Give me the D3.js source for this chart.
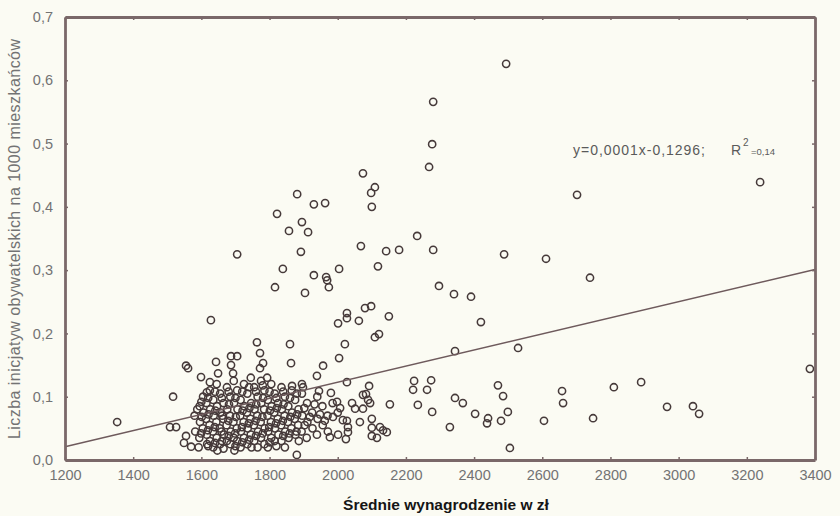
<!DOCTYPE html>
<html><head><meta charset="utf-8">
<script src="https://cdn.jsdelivr.net/npm/d3@7"></script>
<style>html,body{margin:0;background:#fbfbf3;}svg{display:block;}</style>
</head><body>
<svg id="chart" width="840" height="516"></svg>
<script>
// Axis ticks
const xTicks = [1200, 1400, 1600, 1800, 2000, 2200, 2400, 2600, 2800, 3000, 3200, 3400];
const yTicks = [0, 0.1, 0.2, 0.3, 0.4, 0.5, 0.6, 0.7];

// Fitted line endpoints (as drawn)
const fitX = [1200, 3400];
const fitY = [0.021, 0.301];

// Scattered municipalities: [average wage, initiatives per 1000 inhabitants]
const sparse = [
  [2494,0.626],[2280,0.566],[2277,0.499],[2268,0.463],[2074,0.453],[2109,0.431],[2098,0.422],
  [2100,0.400],[1963,0.406],[1881,0.420],[1930,0.404],[1822,0.389],[1895,0.376],[1857,0.362],
  [1913,0.360],[1892,0.329],[1705,0.325],[1839,0.302],[1930,0.292],[1816,0.273],[1904,0.264],
  [1628,0.221],[2702,0.419],[3239,0.439],[2233,0.354],[2068,0.338],[2142,0.330],[2180,0.332],
  [2280,0.332],[2004,0.302],[2118,0.306],[2488,0.325],[2611,0.318],[2740,0.288],[1966,0.289],
  [1969,0.284],[1974,0.273],[2297,0.275],[2341,0.262],[2391,0.258],[2080,0.240],[2098,0.243],
  [2027,0.232],[2027,0.224],[2001,0.216],[2062,0.220],[2150,0.227],[2420,0.218],[2121,0.199],
  [2109,0.194],[2021,0.183],[2004,0.161],[1860,0.183],[1763,0.186],[1863,0.153],[1957,0.149],
  [1939,0.133],[1772,0.169],[1781,0.153],[1772,0.145],[1687,0.164],[1705,0.164],[1643,0.155],
  [1687,0.150],[1555,0.149],[1561,0.145],[1649,0.137],[1693,0.137],[1599,0.131],[1625,0.123],
  [1793,0.130],[1517,0.100],[1616,0.107],[1866,0.117],[1895,0.120],[1898,0.115],[1945,0.109],
  [1980,0.106],[2027,0.123],[2092,0.117],[2074,0.103],[2083,0.104],[2089,0.095],[2224,0.125],
  [2274,0.126],[2221,0.111],[2262,0.111],[2153,0.088],[2235,0.087],[2277,0.076],[2344,0.098],
  [2329,0.052],[2367,0.090],[2403,0.073],[2441,0.066],[2438,0.058],[2479,0.062],[2499,0.076],
  [2485,0.101],[2470,0.118],[2505,0.019],[2605,0.062],[2658,0.109],[2661,0.090],[2749,0.066],
  [2810,0.115],[2890,0.123],[2966,0.084],[3042,0.085],[3060,0.073],[3385,0.144],[2344,0.172],
  [2529,0.177],[1998,0.092],[2007,0.082],[2042,0.090],[2051,0.081],[2074,0.081],[1986,0.068],
  [2015,0.063],[2027,0.062],[2065,0.060],[2100,0.065],[2030,0.052],[2030,0.044],[2100,0.051],
  [2124,0.052],[2133,0.047],[2144,0.044],[2100,0.038],[2115,0.035],[2024,0.033],[1977,0.036],
  [2095,0.090],[1880,0.008],[1353,0.060],[1508,0.052],[1526,0.052],[1549,0.027],[1570,0.021],
  [1555,0.038]
];

// Dense core of the cloud, 1580–2000 zł
const core = [
  [1580,0.070],[1582,0.045],[1588,0.080],
  [1595,0.085],[1596,0.060],[1594,0.035],[1592,0.020],
  [1605,0.100],[1606,0.075],[1604,0.050],
  [1615,0.090],[1614,0.065],[1616,0.040],[1617,0.025],
  [1625,0.110],[1626,0.080],[1624,0.055],[1625,0.030],
  [1635,0.095],[1636,0.070],[1634,0.045],[1635,0.020],
  [1645,0.120],[1646,0.085],[1644,0.060],[1645,0.035],[1647,0.015],
  [1655,0.105],[1656,0.075],[1654,0.050],[1655,0.025],
  [1665,0.090],[1664,0.065],[1666,0.040],[1665,0.018],
  [1675,0.115],[1676,0.080],[1674,0.055],[1675,0.030],
  [1685,0.100],[1684,0.070],[1686,0.045],[1685,0.025],
  [1695,0.125],[1696,0.090],[1694,0.060],[1695,0.035],[1697,0.015],
  [1705,0.110],[1706,0.080],[1704,0.050],[1705,0.030],
  [1715,0.095],[1714,0.070],[1716,0.045],[1715,0.020],
  [1725,0.120],[1726,0.085],[1724,0.060],[1725,0.035],
  [1735,0.105],[1734,0.075],[1736,0.050],[1735,0.025],
  [1745,0.130],[1746,0.090],[1744,0.065],[1745,0.040],[1747,0.020],
  [1755,0.115],[1756,0.080],[1754,0.055],[1755,0.030],
  [1765,0.100],[1764,0.070],[1766,0.045],[1765,0.020],
  [1775,0.125],[1776,0.090],[1774,0.060],[1775,0.035],
  [1785,0.110],[1784,0.080],[1786,0.050],[1785,0.025],
  [1795,0.095],[1794,0.070],[1796,0.045],[1795,0.020],
  [1805,0.120],[1806,0.085],[1804,0.060],[1805,0.035],
  [1815,0.105],[1814,0.075],[1816,0.050],[1815,0.030],
  [1825,0.090],[1824,0.065],[1826,0.040],
  [1835,0.115],[1836,0.080],[1834,0.055],[1835,0.030],
  [1845,0.100],[1844,0.070],[1846,0.045],[1845,0.020],
  [1855,0.085],[1854,0.060],[1856,0.035],
  [1865,0.110],[1866,0.075],[1864,0.050],
  [1875,0.095],[1874,0.065],[1876,0.040],
  [1885,0.080],[1884,0.055],[1886,0.030],
  [1895,0.105],[1896,0.070],[1894,0.045],
  [1910,0.090],[1911,0.060],[1909,0.035],
  [1925,0.075],[1926,0.050],
  [1940,0.100],[1941,0.065],[1939,0.040],
  [1955,0.085],[1956,0.055],
  [1970,0.070],[1971,0.045],
  [1985,0.090],[2000,0.075],[2001,0.040]
];

// Overlapping points filling the densest part of the core
const coreFill = [
  [1600,0.092],[1601,0.068],[1599,0.042],
  [1620,0.098],[1621,0.072],[1619,0.047],[1620,0.022],
  [1640,0.108],[1641,0.078],[1639,0.052],[1640,0.027],
  [1660,0.098],[1661,0.070],[1659,0.045],[1660,0.030],
  [1680,0.108],[1681,0.088],[1679,0.062],[1680,0.038],
  [1700,0.098],[1701,0.068],[1699,0.042],[1700,0.022],
  [1720,0.108],[1721,0.078],[1719,0.052],[1720,0.028],
  [1740,0.115],[1741,0.082],[1739,0.058],[1740,0.032],
  [1760,0.108],[1761,0.088],[1759,0.062],[1760,0.038],
  [1780,0.118],[1781,0.098],[1779,0.068],[1780,0.042],
  [1800,0.108],[1801,0.078],[1799,0.052],[1800,0.028],
  [1820,0.098],[1821,0.082],[1819,0.058],[1820,0.022],
  [1840,0.108],[1841,0.088],[1839,0.062],[1840,0.038],
  [1860,0.098],[1861,0.068],[1859,0.042],
  [1880,0.105],[1881,0.072],[1879,0.045],
  [1902,0.082],[1903,0.055],
  [1918,0.068],[1932,0.088],[1948,0.072],[1962,0.062]
];

const svg = d3.select("#chart");
const W = 840, H = 516;
const plot = { left: 65, right: 815, top: 17, bottom: 460 };

svg.append("rect").attr("width", W).attr("height", H).attr("fill", "#fbfbf3");

const x = d3.scaleLinear().domain([1200, 3400]).range([plot.left, plot.right]);
const y = d3.scaleLinear().domain([0, 0.7]).range([plot.bottom, plot.top]);

const frameColor = "#7a6869";
const labelColor = "#737373";
const fmt = v => d3.format(".1f")(v).replace(".", ",");

// Points
svg.append("g").selectAll("circle")
  .data(core.concat(coreFill, sparse))
  .join("circle")
  .attr("cx", d => x(d[0]))
  .attr("cy", d => y(d[1]))
  .attr("r", 3.6)
  .attr("fill", "none")
  .attr("stroke", "#463a3a")
  .attr("stroke-width", 1.55);

// Fitted line
svg.append("line")
  .attr("x1", x(fitX[0])).attr("y1", y(fitY[0]))
  .attr("x2", x(fitX[1])).attr("y2", y(fitY[1]))
  .attr("stroke", "#6e5a5c").attr("stroke-width", 1.4);

// Axes (bottom and left with labels, top and right tick-only)
const xAxis = svg.append("g").attr("transform", `translate(0,${plot.bottom})`)
  .call(d3.axisBottom(x).tickValues(xTicks).tickSize(-3).tickSizeOuter(0).tickPadding(10).tickFormat(d3.format("d")));
const yAxis = svg.append("g").attr("transform", `translate(${plot.left},0)`)
  .call(d3.axisLeft(y).tickValues(yTicks).tickSize(-3).tickSizeOuter(0).tickPadding(12).tickFormat(fmt));
const xTop = svg.append("g").attr("transform", `translate(0,${plot.top})`)
  .call(d3.axisTop(x).tickValues(xTicks).tickSize(-3).tickSizeOuter(0).tickFormat(""));
const yRight = svg.append("g").attr("transform", `translate(${plot.right},0)`)
  .call(d3.axisRight(y).tickValues(yTicks).tickSize(-3).tickSizeOuter(0).tickFormat(""));

[xAxis, yAxis, xTop, yRight].forEach(g => {
  g.select(".domain").attr("stroke", frameColor).attr("stroke-width", 2.8);
  g.selectAll(".tick line").attr("stroke", frameColor).attr("stroke-width", 1.5);
  g.selectAll(".tick text")
    .attr("fill", labelColor)
    .style("font-family", "'Liberation Sans', Arial, sans-serif")
    .style("font-size", "14.5px");
});

// Axis titles
svg.append("text")
  .attr("x", 446).attr("y", 510)
  .attr("text-anchor", "middle")
  .style("font-family", "'Liberation Sans', Arial, sans-serif")
  .style("font-size", "15.5px").style("font-weight", "bold")
  .attr("fill", "#151515")
  .text("Średnie wynagrodzenie w zł");

svg.append("text")
  .attr("transform", "translate(20,239) rotate(-90)")
  .attr("text-anchor", "middle")
  .attr("textLength", 400)
  .attr("lengthAdjust", "spacing")
  .style("font-family", "'Liberation Sans', Arial, sans-serif")
  .style("font-size", "16px")
  .attr("fill", labelColor)
  .text("Liczba inicjatyw obywatelskich na 1000 mieszkańców");

// Regression equation
const eq = svg.append("text")
  .attr("y", 155)
  .style("font-family", "'Liberation Sans', Arial, sans-serif")
  .style("font-size", "14px")
  .attr("fill", "#5a5a5a");
eq.append("tspan").attr("x", 573).attr("textLength", 132).attr("lengthAdjust", "spacing").text("y=0,0001x-0,1296;");
eq.append("tspan").attr("x", 731).text("R");
eq.append("tspan").attr("x", 743).attr("dy", -9).style("font-size", "10px").text("2");
eq.append("tspan").attr("x", 751).attr("dy", 9).style("font-size", "9.5px").text("=0,14");
</script>
</body></html>
